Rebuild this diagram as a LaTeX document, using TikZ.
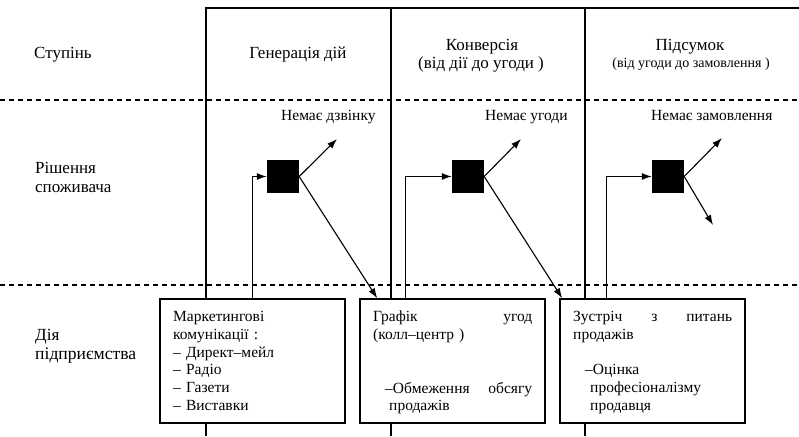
\documentclass[tikz,border=0pt]{standalone}
\usepackage{fontspec}
\setmainfont{Liberation Serif}
\newfontfamily\labelfont{Liberation Serif}
\usetikzlibrary{arrows.meta}
\begin{document}
\begin{tikzpicture}[x=1pt,y=-1pt,
  big/.style={font=\labelfont\fontsize{17}{20}\selectfont, inner sep=0pt},
  txt/.style={font=\labelfont\fontsize{15.5}{17.8}\selectfont, inner sep=0pt},
  small/.style={font=\labelfont\fontsize{14}{16}\selectfont, inner sep=0pt},
  boxtxt/.style={txt, align=left, text width=159pt, anchor=north west},
  frame/.style={line width=1.6pt},
  sepline/.style={line width=1.6pt, dash pattern=on 5pt off 4pt},
  stagebox/.style={draw, fill=white, line width=1.6pt, minimum width=185pt, minimum height=124pt, inner sep=0pt},
  decision/.style={fill=black, minimum width=32pt, minimum height=33pt, inner sep=0pt},
  arr/.style={line width=1.1pt, -{Latex[length=10pt,width=7pt]}}
]
\useasboundingbox (0,0) rectangle (799,436);

% column frame
\draw[frame] (206,436) -- (206,8) -- (799,8);
\draw[frame] (391,8) -- (391,436);
\draw[frame] (585,8) -- (585,436);

% row separators
\draw[sepline] (0,100) -- (799,100);
\draw[sepline] (0,285) -- (799,285);

% row titles
\node[big, anchor=base west] (rowA) at (34,58) {Ступінь};
\node[big, anchor=base west] (rowB1) at (35,173) {Рішення};
\node[big, anchor=base west] (rowB2) at (35,192) {споживача};
\node[big, anchor=base west] (rowC1) at (35,340) {Дія};
\node[big, anchor=base west] (rowC2) at (35,359) {\fontsize{17.6}{20}\selectfont підприємства};

% column titles
\node[big, anchor=base] (colA) at (298,58) {Генерація дій};
\node[big, anchor=base] (colB1) at (482,50) {Конверсія};
\node[big, anchor=base] (colB2) at (481,68) {(від дії до угоди )};
\node[big, anchor=base] (colC1) at (690,50) {Підсумок};
\node[small, anchor=base] (colC2) at (691,67) {(від угоди до замовлення )};

% outcome labels
\node[txt, anchor=base west] (noA) at (281,120) {Немає дзвінку};
\node[txt, anchor=base west] (noB) at (485,120) {Немає угоди};
\node[txt, anchor=base west] (noC) at (651,120) {Немає замовлення};

% decision points
\node[decision] (sq1) at (283,176.5) {};
\node[decision] (sq2) at (468,176.5) {};
\node[decision] (sq3) at (668,176.5) {};

% activity boxes
\node[stagebox] (box1) at (252.5,361) {};
\node[stagebox] (box2) at (452.5,361) {};
\node[stagebox] (box3) at (652.5,361) {};

\node[boxtxt] (t1) at (173,311) {Маркетингові\\комунікації :\\– Директ–мейл\\– Радіо\\– Газети\\– Виставки};
\node[boxtxt] (t2) at (373,311) {\hbox to 159pt{Графік\hfill угод}\\(колл–центр )\\[35.6pt]
  \hspace*{12pt}\hbox to 147pt{–Обмеження\hfill обсягу}\\\hspace*{16pt}продажів};
\node[boxtxt] (t3) at (573,311) {\hbox to 159pt{Зустріч\hfill з\hfill питань}\\продажів\\[17.8pt]
  \hspace*{12pt}–Оцінка\\\hspace*{17pt}професіоналізму\\\hspace*{17pt}продавця};

% free ends of the outcome arrows
\coordinate (endA) at (337,139);
\coordinate (endB) at (521,139);
\coordinate (endC) at (722,138);
\coordinate (endC2) at (713,225);

% connectors
\draw[arr] (box1.north) |- (sq1.west);
\draw[arr] ([xshift=46pt]box2.north west) |- (sq2.west);
\draw[arr] ([xshift=47pt]box3.north west) |- (sq3.west);
\draw[arr] (sq1.east) -- (endA);
\draw[arr] (sq2.east) -- (endB);
\draw[arr] (sq3.east) -- (endC);
\draw[arr] (sq3.east) -- (endC2);
\draw[arr] (sq1.east) -- ([xshift=18pt]box2.north west);
\draw[arr] (sq2.east) -- ([xshift=3pt]box3.north west);
\end{tikzpicture}
\end{document}
